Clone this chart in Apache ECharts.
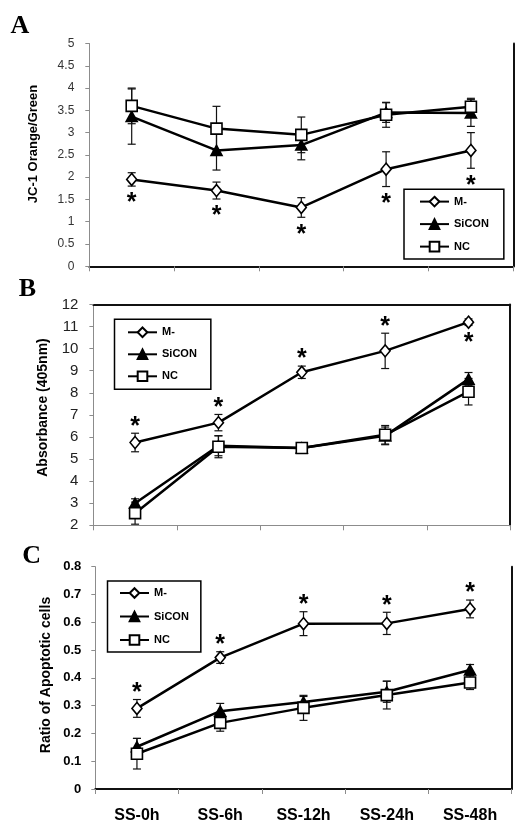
<!DOCTYPE html>
<html><head><meta charset="utf-8">
<script src="https://cdn.jsdelivr.net/npm/echarts@6/dist/echarts.min.js"></script>
<style>html,body{margin:0;padding:0;background:#fff}#c{width:531px;height:834px}</style>
</head><body><div id="c"></div>
<script>
// ---------- data ----------
const categories = ['SS-0h', 'SS-6h', 'SS-12h', 'SS-24h', 'SS-48h'];
const seriesNames = ['M-', 'SiCON', 'NC'];

// Panel A: JC-1 Orange/Green
const jcM = [1.95, 1.70, 1.32, 2.18, 2.60];
const jcMErr = [0.15, 0.19, 0.22, 0.39, 0.40];
const jcSi = [3.36, 2.60, 2.72, 3.45, 3.44];
const jcSiErr = [0.62, 0.44, 0.33, 0.22, 0.30];
const jcNC = [3.60, 3.09, 2.95, 3.40, 3.58];
const jcNCErr = [0.40, 0.50, 0.40, 0.28, 0.19];
const jcStars = ['below', 'below', 'below', 'below', 'below'];
const jcAxis = { min: 0, max: 5, interval: 0.5 };

// Panel B: Absorbance (405nm)
const absM = [5.75, 6.65, 8.93, 9.90, 11.20];
const absMErr = [0.42, 0.37, 0.28, 0.80, 0.15];
const absSi = [3.00, 5.60, 5.50, 6.05, 8.62];
const absSiErr = [0.20, 0.45, 0.10, 0.40, 0.30];
const absNC = [2.55, 5.56, 5.50, 6.10, 8.05];
const absNCErr = [0.50, 0.50, 0.10, 0.42, 0.60];
const absStars = ['above', 'above', 'above', 'above', 'below'];
const absAxis = { min: 2, max: 12, interval: 1 };

// Panel C: Ratio of Apoptotic cells
const apoM = [0.290, 0.473, 0.595, 0.596, 0.648];
const apoMErr = [0.032, 0.021, 0.043, 0.040, 0.032];
const apoSi = [0.152, 0.280, 0.313, 0.350, 0.428];
const apoSiErr = [0.030, 0.028, 0.020, 0.038, 0.020];
const apoNC = [0.127, 0.238, 0.292, 0.338, 0.383];
const apoNCErr = [0.055, 0.030, 0.045, 0.050, 0.025];
const apoStars = ['above', 'above', 'above', 'above', 'above'];
const apoAxis = { min: 0, max: 0.8, interval: 0.1 };

// ---------- layout / style ----------
const FONT = 'Liberation Sans, Arial, sans-serif';
const panels = [
  { letter: 'A', title: 'JC-1 Orange/Green', axis: jcAxis,
    means: [jcM, jcSi, jcNC], errs: [jcMErr, jcSiErr, jcNCErr], stars: jcStars,
    grid: { left: 89.3, top: 43.5, width: 424, height: 222.8 },
    yLabel: { fontSize: 12, color: '#333', fontWeight: 'normal', margin: 15 },
    showX: false,
    legend: { left: 404, top: 189.3, itemGap: 10.5, padding: [6.3, 15, 6.3, 15] },
    letterPos: [20, 26.7], titlePos: [33.5, 144], titleSize: 13 },
  { letter: 'B', title: 'Absorbance (405nm)', axis: absAxis,
    means: [absM, absSi, absNC], errs: [absMErr, absSiErr, absNCErr], stars: absStars,
    grid: { left: 93.4, top: 304.5, width: 416.8, height: 220.8 },
    yLabel: { fontSize: 15, color: '#222', fontWeight: 'normal', margin: 15 },
    showX: false,
    legend: { left: 114.5, top: 319.3, itemGap: 10, padding: [7, 14, 7, 12.5] },
    letterPos: [27.5, 289], titlePos: [43, 407.5], titleSize: 14 },
  { letter: 'C', title: 'Ratio of Apoptotic cells', axis: apoAxis,
    means: [apoM, apoSi, apoNC], errs: [apoMErr, apoSiErr, apoNCErr], stars: apoStars,
    grid: { left: 95.3, top: 566.7, width: 416.4, height: 222.3 },
    yLabel: { fontSize: 13, color: '#000', fontWeight: 'bold', margin: 14 },
    showX: true,
    legend: { left: 107.5, top: 581, itemGap: 11.5, padding: [6, 12, 6, 11.5] },
    letterPos: [31.7, 556.5], titlePos: [46, 675], titleSize: 14 }
];

const symbolDefs = [
  { symbol: 'diamond', size: [10, 12], fill: '#fff' },
  { symbol: 'triangle', size: [11, 10], fill: '#000' },
  { symbol: 'rect', size: [11, 11], fill: '#fff' }
];

function renderErr(params, api) {
  const x = api.value(0), m = api.value(1), e = api.value(2);
  const top = api.coord([x, m + e]);
  const bot = api.coord([x, m - e]);
  const cx = top[0], hw = 4;
  const st = { stroke: '#111', lineWidth: 1.2 };
  return { type: 'group', children: [
    { type: 'line', shape: { x1: cx, y1: top[1], x2: cx, y2: bot[1] }, style: st },
    { type: 'line', shape: { x1: cx - hw, y1: top[1], x2: cx + hw, y2: top[1] }, style: st },
    { type: 'line', shape: { x1: cx - hw, y1: bot[1], x2: cx + hw, y2: bot[1] }, style: st }
  ] };
}
function renderStar(params, api) {
  const x = api.value(0), y = api.value(1), dir = api.value(2);
  const p = api.coord([x, y]);
  const fs = 25;
  return { type: 'text', x: p[0], y: p[1] + dir * 12 + fs * 0.22,
    style: { text: '*', fill: '#000', font: 'bold ' + fs + 'px ' + FONT, align: 'center', verticalAlign: 'middle' } };
}

const grid = [], xAxis = [], yAxis = [], series = [], legend = [], graphic = [];
panels.forEach((P, p) => {
  grid.push(Object.assign({ containLabel: false }, P.grid));
  xAxis.push({ type: 'category', gridIndex: p, data: categories, position: 'bottom', boundaryGap: true,
    axisLine: { show: true, lineStyle: { color: '#8c8c8c', width: 1 } },
    axisTick: { show: true, length: 5, lineStyle: { color: '#8c8c8c' } },
    axisLabel: { show: P.showX, fontSize: 16, fontWeight: 'bold', color: '#000', fontFamily: FONT, margin: 19 },
    splitLine: { show: false } });
  xAxis.push({ type: 'category', gridIndex: p, data: categories, position: 'top', boundaryGap: true,
    axisLine: { show: true, lineStyle: { color: '#111', width: 2 } },
    axisTick: { show: false }, axisLabel: { show: false }, splitLine: { show: false } });
  yAxis.push({ type: 'value', gridIndex: p, position: 'left', min: P.axis.min, max: P.axis.max, interval: P.axis.interval,
    axisLine: { show: true, lineStyle: { color: '#8c8c8c', width: 1 } },
    axisTick: { show: true, length: 4, lineStyle: { color: '#8c8c8c' } },
    axisLabel: Object.assign({ fontFamily: FONT }, P.yLabel),
    splitLine: { show: false } });
  yAxis.push({ type: 'value', gridIndex: p, position: 'right', min: P.axis.min, max: P.axis.max, interval: P.axis.interval,
    axisLine: { show: true, lineStyle: { color: '#111', width: 2 } },
    axisTick: { show: false }, axisLabel: { show: false }, splitLine: { show: false } });

  // error bars
  const errData = [];
  P.means.forEach((arr, s) => arr.forEach((v, i) => errData.push([i, v, P.errs[s][i]])));
  series.push({ type: 'custom', name: 'err' + p, xAxisIndex: 2 * p, yAxisIndex: 2 * p, z: 1,
    renderItem: renderErr, data: errData, silent: true, clip: false });

  // lines
  seriesNames.forEach((name, s) => {
    const d = symbolDefs[s];
    series.push({ type: 'line', name: name, xAxisIndex: 2 * p, yAxisIndex: 2 * p, z: 2 + s,
      data: P.means[s], symbol: d.symbol, symbolSize: d.size, showAllSymbol: true,
      lineStyle: { color: '#000', width: 2.5 },
      itemStyle: { color: d.fill, borderColor: '#000', borderWidth: 1.6 },
      emphasis: { disabled: true }, silent: true });
  });

  // significance stars on M-
  const starData = P.stars.map((side, i) => side === 'above'
    ? [i, P.means[0][i] + P.errs[0][i], -1]
    : [i, P.means[0][i] - P.errs[0][i], 1]);
  series.push({ type: 'custom', name: 'stars' + p, xAxisIndex: 2 * p, yAxisIndex: 2 * p, z: 10,
    renderItem: renderStar, data: starData, silent: true, clip: false });

  legend.push({ orient: 'vertical', left: P.legend.left, top: P.legend.top, data: seriesNames,
    itemWidth: 29, itemHeight: 12, itemGap: P.legend.itemGap, padding: P.legend.padding,
    borderColor: '#000', borderWidth: 1.5, backgroundColor: '#fff', selectedMode: false,
    textStyle: { fontFamily: FONT, fontSize: 11, fontWeight: 'bold', color: '#000', lineHeight: 12 } });

  graphic.push({ type: 'text', x: P.letterPos[0], y: P.letterPos[1],
    style: { text: P.letter, fill: '#000', font: "bold 26px 'Liberation Serif', 'Times New Roman', serif", align: 'center', verticalAlign: 'middle' } });
  graphic.push({ type: 'text', x: P.titlePos[0], y: P.titlePos[1], rotation: Math.PI / 2,
    style: { text: P.title, fill: '#000', font: 'bold ' + P.titleSize + 'px ' + FONT, align: 'center', verticalAlign: 'middle' } });
});

const chart = echarts.init(document.getElementById('c'), null, { renderer: 'canvas' });
chart.setOption({ animation: false, backgroundColor: '#fff', grid, xAxis, yAxis, series, legend, graphic });
</script>
</body></html>
